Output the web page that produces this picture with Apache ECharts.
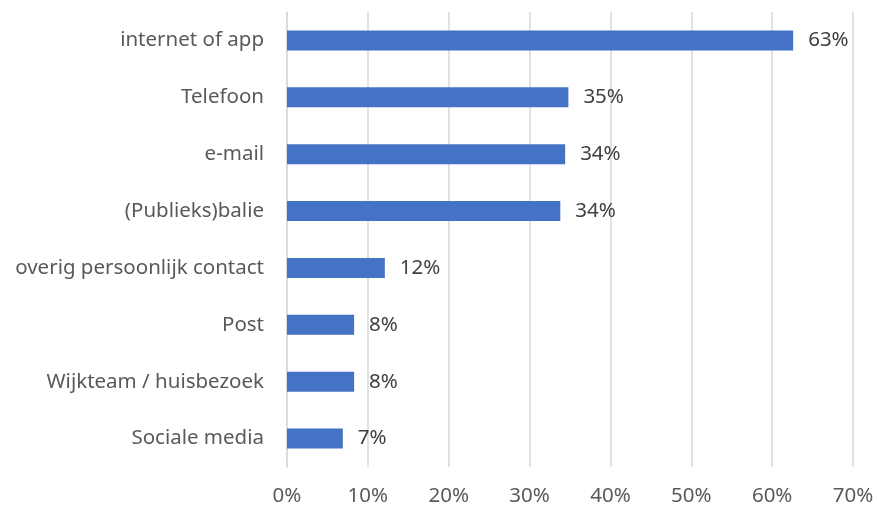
<!DOCTYPE html>
<html>
<head>
<meta charset="utf-8">
<script src="https://cdn.jsdelivr.net/npm/echarts@6/dist/echarts.min.js"></script>
<style>html,body{margin:0;padding:0;background:#fff;}#c{width:877px;height:507px;}</style>
</head>
<body>
<div id="c"></div>
<script>
const categories = ["internet of app","Telefoon","e-mail","(Publieks)balie","overig persoonlijk contact","Post","Wijkteam / huisbezoek","Sociale media"];
const values = [62.6, 34.8, 34.4, 33.8, 12.1, 8.3, 8.3, 6.9];
const labels = ["63%","35%","34%","34%","12%","8%","8%","7%"];
const xTicks = [0,10,20,30,40,50,60,70];

const font = '"Noto Sans", "Open Sans", sans-serif';
const chart = echarts.init(document.getElementById('c'));
chart.setOption({
  animation: false,
  grid: {left: 287, right: 24, top: 12, bottom: 40, containLabel: false},
  xAxis: {
    type: 'value', min: xTicks[0], max: xTicks[xTicks.length - 1], interval: 10,
    axisLine: {show: false}, axisTick: {show: false},
    splitLine: {show: true, lineStyle: {color: '#d9d9d9', width: 1.5}},
    axisLabel: {formatter: v => v + '%', color: '#595959', fontSize: 20.5, fontFamily: font, margin: 19}
  },
  yAxis: {
    type: 'category', data: categories, inverse: true,
    axisLine: {show: true, lineStyle: {color: '#d9d9d9', width: 1.5}},
    axisTick: {show: false},
    axisLabel: {color: '#595959', fontSize: 20.5, fontFamily: font, margin: 23}
  },
  series: [{
    type: 'bar', data: values, barWidth: 20,
    itemStyle: {color: '#4472C4'},
    label: {show: true, position: 'right', distance: 15, color: '#404040', fontSize: 20.5, fontFamily: font,
      formatter: p => labels[p.dataIndex]}
  }]
});
</script>
</body>
</html>
